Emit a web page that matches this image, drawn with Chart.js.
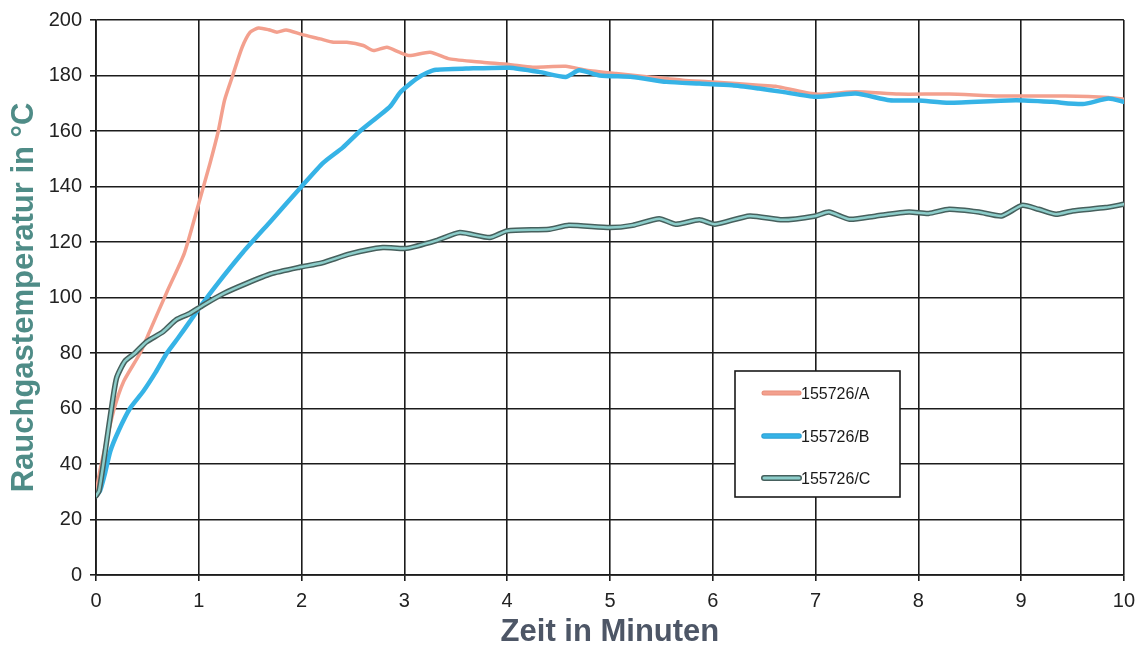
<!DOCTYPE html>
<html>
<head>
<meta charset="utf-8">
<script src="https://cdn.jsdelivr.net/npm/chart.js@4.4.1/dist/chart.umd.min.js"></script>
<style>
  html, body { margin: 0; padding: 0; background: #fff; }
  #wrap { width: 1143px; height: 652px; }
</style>
</head>
<body>
<div id="wrap"><canvas id="rauchChart" width="1143" height="652"></canvas></div>
<script>
const seriesNames = ["155726/A", "155726/B", "155726/C"];

const minA = [0, 0.03, 0.08, 0.17, 0.27, 0.43, 0.52, 0.69, 0.86, 1.0, 1.11, 1.19, 1.25, 1.33, 1.42, 1.5, 1.58, 1.68, 1.76, 1.85, 2.0, 2.18, 2.31, 2.44, 2.6, 2.7, 2.83, 2.95, 3.05, 3.25, 3.44, 3.76, 4.02, 4.25, 4.57, 4.77, 5.06, 5.38, 5.71, 6.0, 6.45, 6.61, 7.0, 7.39, 7.81, 8.3, 8.79, 9.43, 9.85, 10];
const tempA = [29, 36, 44.7, 59, 69.8, 80, 87.6, 102, 116, 134, 148.5, 160, 171, 180, 190, 195.6, 197.1, 196.5, 195.6, 196.4, 194.8, 193.2, 192, 192, 190.8, 189, 190.2, 188.4, 187.2, 188.4, 186, 184.8, 184, 183, 183.3, 181.9, 180.7, 179.5, 178.3, 177.7, 176.5, 176.1, 173.3, 174.1, 173.3, 173.3, 172.6, 172.6, 172.1, 171.4];

const minB = [0, 0.04, 0.09, 0.14, 0.22, 0.33, 0.46, 0.58, 0.69, 0.8, 0.91, 1.0, 1.17, 1.43, 1.7, 2.0, 2.21, 2.4, 2.57, 2.86, 2.95, 3.0, 3.12, 3.22, 3.31, 3.6, 4.02, 4.31, 4.57, 4.7, 4.9, 5.22, 5.55, 5.87, 6.19, 6.45, 6.68, 7.0, 7.39, 7.72, 8.0, 8.3, 8.95, 9.3, 9.6, 9.85, 10];
const tempB = [28.5, 30.4, 37, 44.7, 52, 60, 66.2, 73, 80, 85.5, 91.2, 96, 104.4, 116.3, 127.5, 140, 148.5, 154, 160, 168.8, 173.5, 175.3, 178.9, 181, 182.1, 182.5, 182.8, 181.3, 179.5, 181.9, 180, 179.5, 177.7, 177.1, 176.5, 175.3, 174.1, 172.3, 173.5, 171.1, 171, 170.2, 171.1, 170.5, 169.7, 171.7, 170.5];

const minC = [0, 0.03, 0.09, 0.15, 0.2, 0.28, 0.38, 0.49, 0.65, 0.78, 0.91, 1.04, 1.24, 1.46, 1.7, 1.98, 2.2, 2.47, 2.79, 3.02, 3.31, 3.54, 3.83, 4.0, 4.41, 4.6, 5.0, 5.22, 5.48, 5.64, 5.87, 6.02, 6.36, 6.68, 7.0, 7.13, 7.33, 7.59, 7.91, 8.1, 8.3, 8.59, 8.81, 9.01, 9.17, 9.34, 9.5, 9.82, 10];
const tempC = [28.5, 30.4, 44.7, 60, 71, 77, 80, 84, 87.6, 92, 94.2, 97.2, 101.4, 105, 108.5, 110.9, 112.5, 115.7, 118, 117.7, 120.5, 123.4, 121.6, 124, 124.6, 126, 125.2, 126, 128.4, 126.4, 128, 126.4, 129.4, 128, 129.4, 130.8, 128.2, 129.4, 130.8, 130.3, 131.8, 130.8, 129.4, 133.2, 131.8, 130, 131.2, 132.4, 133.6];

function toPoints(xs, ys) {
    return xs.map((x, i) => ({ x: x, y: ys[i] }));
}

const colA = "#f3a08e", colB = "#36b3e6", colCout = "#46605d", colCin = "#8ccdca";

// Legende im Diagramm (Kasten rechts unten)
const boxLegend = {
    id: "boxLegend",
    afterDraw(chart) {
        const ctx = chart.ctx;
        const x0 = 735, y0 = 371, w = 165, h = 126;
        ctx.save();
        ctx.fillStyle = "#fff";
        ctx.fillRect(x0, y0, w, h);
        ctx.strokeStyle = "#1a1a1a";
        ctx.lineWidth = 1.6;
        ctx.strokeRect(x0, y0, w, h);
        const rows = [
            { y: 393, outer: "#e8907c", inner: colA, wOut: 5, wIn: 3 },
            { y: 436, outer: "#2a9fd4", inner: colB, wOut: 5.5, wIn: 3.5 },
            { y: 478, outer: colCout, inner: colCin, wOut: 6, wIn: 3 }
        ];
        ctx.lineCap = "round";
        rows.forEach((r, i) => {
            ctx.strokeStyle = r.outer; ctx.lineWidth = r.wOut;
            ctx.beginPath(); ctx.moveTo(764, r.y); ctx.lineTo(799, r.y); ctx.stroke();
            ctx.strokeStyle = r.inner; ctx.lineWidth = r.wIn;
            ctx.beginPath(); ctx.moveTo(764, r.y); ctx.lineTo(799, r.y); ctx.stroke();
            ctx.fillStyle = "#1a1a1a";
            ctx.font = "16px 'Liberation Sans', Arial, sans-serif";
            ctx.textBaseline = "middle";
            ctx.fillText(seriesNames[i], 801, r.y + 2);
        });
        ctx.restore();
    }
};

const ctx = document.getElementById("rauchChart").getContext("2d");
const chart = new Chart(ctx, {
    type: "line",
    data: {
        datasets: [
            { label: seriesNames[0], data: toPoints(minA, tempA), borderColor: colA, borderWidth: 3.5, order: 3 },
            { label: seriesNames[1], data: toPoints(minB, tempB), borderColor: colB, borderWidth: 4.5, order: 2 },
            { label: seriesNames[2] + " Rand", data: toPoints(minC, tempC), borderColor: colCout, borderWidth: 5.5, order: 1 },
            { label: seriesNames[2], data: toPoints(minC, tempC), borderColor: colCin, borderWidth: 2.5, order: 0 }
        ]
    },
    options: {
        responsive: false,
        animation: false,
        elements: {
            point: { radius: 0 },
            line: { tension: 0.2, fill: false, borderCapStyle: "round", borderJoinStyle: "round" }
        },
        layout: { padding: { left: 0, top: 16, right: 18, bottom: 0 } },
        plugins: {
            legend: { display: false },
            tooltip: { enabled: false }
        },
        scales: {
            x: {
                type: "linear",
                min: 0, max: 10,
                ticks: { stepSize: 1, color: "#222", padding: 8, font: { size: 20, family: "'Liberation Sans', Arial, sans-serif" } },
                grid: { color: "#1c1c1c", lineWidth: 1.6, tickLength: 6, tickColor: "#1c1c1c" },
                border: { color: "#1c1c1c", width: 1.8 },
                title: {
                    display: true, text: "Zeit in Minuten", color: "#4d5666",
                    font: { size: 31, weight: "bold", family: "'Liberation Sans', Arial, sans-serif" },
                    padding: { top: 0, bottom: 1 }
                },
                afterFit(scale) { scale.height = 77; }
            },
            y: {
                min: 0, max: 200,
                ticks: { stepSize: 20, color: "#222", padding: 8, font: { size: 20, family: "'Liberation Sans', Arial, sans-serif" } },
                grid: { color: "#1c1c1c", lineWidth: 1.6, tickLength: 6, tickColor: "#1c1c1c" },
                border: { color: "#1c1c1c", width: 1.8 },
                title: {
                    display: true, text: "Rauchgastemperatur in °C", color: "#4f8c87",
                    font: { size: 31, weight: "bold", family: "'Liberation Sans', Arial, sans-serif" },
                    padding: { top: 6, bottom: 0 }
                },
                afterFit(scale) { scale.width = 96; }
            }
        }
    },
    plugins: [boxLegend]
});
</script>
</body>
</html>
